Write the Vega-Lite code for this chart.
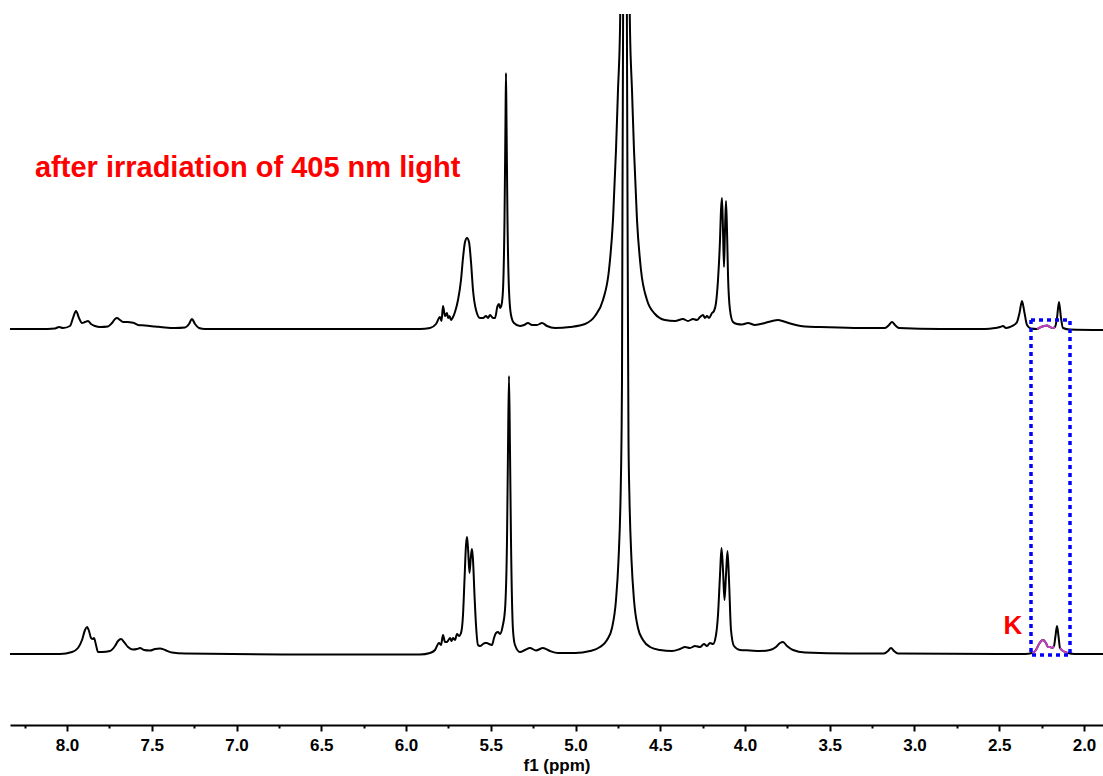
{
  "$schema": "https://vega.github.io/schema/vega-lite/v6.json",
  "width": 1093,
  "height": 711,
  "autosize": {"type": "none"},
  "padding": {"left": 10, "top": 14, "right": 0, "bottom": 51},
  "background": "white",
  "config": {"view": {"stroke": null}},
  "datasets": {
    "top": [
      {"ppm": 8.3363, "v": 396}, {"ppm": 8.1593, "v": 396}, {"ppm": 8.0708, "v": 396.5}, {"ppm": 8.0472, "v": 398},
      {"ppm": 8.0236, "v": 397}, {"ppm": 7.9823, "v": 399}, {"ppm": 7.9646, "v": 407}, {"ppm": 7.9469, "v": 414},
      {"ppm": 7.9292, "v": 407}, {"ppm": 7.9115, "v": 402}, {"ppm": 7.8938, "v": 403}, {"ppm": 7.8761, "v": 404},
      {"ppm": 7.8584, "v": 401}, {"ppm": 7.8348, "v": 399}, {"ppm": 7.8053, "v": 398}, {"ppm": 7.7581, "v": 398.5},
      {"ppm": 7.7345, "v": 402}, {"ppm": 7.7168, "v": 406}, {"ppm": 7.705, "v": 407}, {"ppm": 7.6873, "v": 405},
      {"ppm": 7.6696, "v": 403}, {"ppm": 7.646, "v": 403}, {"ppm": 7.6224, "v": 402.5}, {"ppm": 7.6047, "v": 402},
      {"ppm": 7.5811, "v": 400}, {"ppm": 7.5398, "v": 399.5}, {"ppm": 7.4808, "v": 398.5}, {"ppm": 7.4218, "v": 397.5},
      {"ppm": 7.3629, "v": 397}, {"ppm": 7.3039, "v": 397.5}, {"ppm": 7.2803, "v": 401}, {"ppm": 7.2626, "v": 406},
      {"ppm": 7.2449, "v": 401}, {"ppm": 7.2213, "v": 397}, {"ppm": 7.1859, "v": 396}, {"ppm": 6.6254, "v": 396},
      {"ppm": 6.1534, "v": 396}, {"ppm": 5.9174, "v": 396}, {"ppm": 5.8584, "v": 397}, {"ppm": 5.823, "v": 401},
      {"ppm": 5.7994, "v": 408}, {"ppm": 5.7906, "v": 404}, {"ppm": 5.7817, "v": 419}, {"ppm": 5.7699, "v": 409},
      {"ppm": 5.7581, "v": 412}, {"ppm": 5.7522, "v": 407}, {"ppm": 5.7434, "v": 409}, {"ppm": 5.7345, "v": 405},
      {"ppm": 5.7257, "v": 407}, {"ppm": 5.7109, "v": 413}, {"ppm": 5.6932, "v": 425}, {"ppm": 5.6755, "v": 445},
      {"ppm": 5.6637, "v": 467}, {"ppm": 5.6519, "v": 483}, {"ppm": 5.6401, "v": 487}, {"ppm": 5.6283, "v": 483},
      {"ppm": 5.6165, "v": 463}, {"ppm": 5.6047, "v": 435}, {"ppm": 5.587, "v": 415}, {"ppm": 5.5634, "v": 407},
      {"ppm": 5.5457, "v": 407}, {"ppm": 5.528, "v": 409}, {"ppm": 5.5162, "v": 407}, {"ppm": 5.5044, "v": 410},
      {"ppm": 5.4867, "v": 407}, {"ppm": 5.4749, "v": 407}, {"ppm": 5.4602, "v": 419}, {"ppm": 5.4513, "v": 421},
      {"ppm": 5.4454, "v": 417}, {"ppm": 5.4366, "v": 420}, {"ppm": 5.4278, "v": 435}, {"ppm": 5.4189, "v": 505},
      {"ppm": 5.413, "v": 605}, {"ppm": 5.4101, "v": 652}, {"ppm": 5.4071, "v": 605}, {"ppm": 5.4012, "v": 505},
      {"ppm": 5.3924, "v": 435}, {"ppm": 5.3806, "v": 410}, {"ppm": 5.3629, "v": 402}, {"ppm": 5.3275, "v": 399},
      {"ppm": 5.3039, "v": 400}, {"ppm": 5.2803, "v": 402}, {"ppm": 5.2567, "v": 400}, {"ppm": 5.2272, "v": 400},
      {"ppm": 5.1977, "v": 402}, {"ppm": 5.1682, "v": 399}, {"ppm": 5.121, "v": 397}, {"ppm": 5.0325, "v": 398},
      {"ppm": 4.944, "v": 401}, {"ppm": 4.885, "v": 409}, {"ppm": 4.8378, "v": 425}, {"ppm": 4.8024, "v": 455},
      {"ppm": 4.7788, "v": 505}, {"ppm": 4.7611, "v": 575}, {"ppm": 4.7493, "v": 635}, {"ppm": 4.7375, "v": 695},
      {"ppm": 4.7316, "v": 765}, {"ppm": 4.708, "v": 1025}, {"ppm": 4.6844, "v": 765}, {"ppm": 4.6785, "v": 695},
      {"ppm": 4.6667, "v": 635}, {"ppm": 4.6549, "v": 575}, {"ppm": 4.6372, "v": 505}, {"ppm": 4.6136, "v": 455},
      {"ppm": 4.5782, "v": 425}, {"ppm": 4.531, "v": 411}, {"ppm": 4.472, "v": 405}, {"ppm": 4.413, "v": 404},
      {"ppm": 4.3658, "v": 406}, {"ppm": 4.3363, "v": 404}, {"ppm": 4.3068, "v": 406}, {"ppm": 4.2832, "v": 405},
      {"ppm": 4.2655, "v": 408}, {"ppm": 4.2478, "v": 410}, {"ppm": 4.236, "v": 407}, {"ppm": 4.2242, "v": 409},
      {"ppm": 4.2124, "v": 407}, {"ppm": 4.1947, "v": 412}, {"ppm": 4.1829, "v": 414}, {"ppm": 4.1711, "v": 422},
      {"ppm": 4.1593, "v": 445}, {"ppm": 4.1475, "v": 485}, {"ppm": 4.1416, "v": 515}, {"ppm": 4.1357, "v": 527},
      {"ppm": 4.1298, "v": 495}, {"ppm": 4.1239, "v": 458}, {"ppm": 4.118, "v": 495}, {"ppm": 4.1121, "v": 524},
      {"ppm": 4.1062, "v": 495}, {"ppm": 4.1003, "v": 450}, {"ppm": 4.0885, "v": 415}, {"ppm": 4.0708, "v": 403},
      {"ppm": 4.0472, "v": 401}, {"ppm": 4.0177, "v": 400.5}, {"ppm": 3.9823, "v": 402}, {"ppm": 3.941, "v": 400},
      {"ppm": 3.882, "v": 402}, {"ppm": 3.8407, "v": 404}, {"ppm": 3.8053, "v": 405}, {"ppm": 3.7699, "v": 403.5},
      {"ppm": 3.7227, "v": 401}, {"ppm": 3.646, "v": 398.5}, {"ppm": 3.5575, "v": 398}, {"ppm": 3.3216, "v": 397},
      {"ppm": 3.1741, "v": 397}, {"ppm": 3.1505, "v": 400}, {"ppm": 3.1328, "v": 403}, {"ppm": 3.1151, "v": 400},
      {"ppm": 3.0915, "v": 397}, {"ppm": 2.8496, "v": 396}, {"ppm": 2.5841, "v": 396}, {"ppm": 2.5251, "v": 397},
      {"ppm": 2.4956, "v": 398}, {"ppm": 2.4779, "v": 399}, {"ppm": 2.4602, "v": 397}, {"ppm": 2.4366, "v": 398},
      {"ppm": 2.413, "v": 400}, {"ppm": 2.3953, "v": 403}, {"ppm": 2.3806, "v": 412}, {"ppm": 2.3658, "v": 424},
      {"ppm": 2.3509, "v": 412}, {"ppm": 2.3363, "v": 400}, {"ppm": 2.3127, "v": 396.5}, {"ppm": 2.2773, "v": 396},
      {"ppm": 2.2537, "v": 398}, {"ppm": 2.236, "v": 399}, {"ppm": 2.2183, "v": 399.5}, {"ppm": 2.2006, "v": 398},
      {"ppm": 2.1829, "v": 397}, {"ppm": 2.1711, "v": 398}, {"ppm": 2.1593, "v": 407}, {"ppm": 2.1475, "v": 423},
      {"ppm": 2.1357, "v": 407}, {"ppm": 2.1239, "v": 397}, {"ppm": 2.0826, "v": 395.5}, {"ppm": 1.8879, "v": 395}
    ],
    "bottom": [
      {"ppm": 8.3363, "v": 71}, {"ppm": 8.0413, "v": 71}, {"ppm": 7.9705, "v": 73}, {"ppm": 7.9351, "v": 77},
      {"ppm": 7.9115, "v": 85}, {"ppm": 7.8938, "v": 95}, {"ppm": 7.882, "v": 98}, {"ppm": 7.8702, "v": 94},
      {"ppm": 7.8584, "v": 87}, {"ppm": 7.8466, "v": 86}, {"ppm": 7.8407, "v": 87}, {"ppm": 7.8289, "v": 80},
      {"ppm": 7.8171, "v": 73}, {"ppm": 7.7935, "v": 73}, {"ppm": 7.7463, "v": 74}, {"ppm": 7.7168, "v": 79},
      {"ppm": 7.6991, "v": 84}, {"ppm": 7.6814, "v": 86}, {"ppm": 7.6637, "v": 83}, {"ppm": 7.6401, "v": 78},
      {"ppm": 7.6106, "v": 75.5}, {"ppm": 7.587, "v": 76}, {"ppm": 7.5693, "v": 77}, {"ppm": 7.5457, "v": 75},
      {"ppm": 7.5103, "v": 74.5}, {"ppm": 7.4808, "v": 76}, {"ppm": 7.4513, "v": 76.5}, {"ppm": 7.4218, "v": 75},
      {"ppm": 7.3806, "v": 72.5}, {"ppm": 7.3039, "v": 71.5}, {"ppm": 6.6254, "v": 70.5}, {"ppm": 5.9174, "v": 70.5},
      {"ppm": 5.8584, "v": 72}, {"ppm": 5.8289, "v": 75}, {"ppm": 5.8053, "v": 82}, {"ppm": 5.7935, "v": 80},
      {"ppm": 5.7817, "v": 90}, {"ppm": 5.7699, "v": 83}, {"ppm": 5.7581, "v": 83}, {"ppm": 5.7493, "v": 85},
      {"ppm": 5.7404, "v": 87}, {"ppm": 5.7316, "v": 84}, {"ppm": 5.7227, "v": 87}, {"ppm": 5.7109, "v": 85},
      {"ppm": 5.6991, "v": 91}, {"ppm": 5.6873, "v": 89}, {"ppm": 5.6755, "v": 92}, {"ppm": 5.6637, "v": 110},
      {"ppm": 5.6549, "v": 145}, {"ppm": 5.646, "v": 180}, {"ppm": 5.6401, "v": 188}, {"ppm": 5.6342, "v": 177},
      {"ppm": 5.6254, "v": 152}, {"ppm": 5.6165, "v": 170}, {"ppm": 5.6106, "v": 176}, {"ppm": 5.6047, "v": 165},
      {"ppm": 5.5959, "v": 130}, {"ppm": 5.587, "v": 100}, {"ppm": 5.5752, "v": 80}, {"ppm": 5.5634, "v": 79},
      {"ppm": 5.5457, "v": 81}, {"ppm": 5.534, "v": 82}, {"ppm": 5.5222, "v": 82}, {"ppm": 5.5103, "v": 81},
      {"ppm": 5.4926, "v": 80}, {"ppm": 5.4808, "v": 87}, {"ppm": 5.469, "v": 92}, {"ppm": 5.4572, "v": 93},
      {"ppm": 5.4454, "v": 91}, {"ppm": 5.4307, "v": 98}, {"ppm": 5.416, "v": 115}, {"ppm": 5.4041, "v": 185},
      {"ppm": 5.3983, "v": 275}, {"ppm": 5.3924, "v": 349}, {"ppm": 5.3865, "v": 275}, {"ppm": 5.3806, "v": 185},
      {"ppm": 5.3688, "v": 95}, {"ppm": 5.357, "v": 80}, {"ppm": 5.3275, "v": 73}, {"ppm": 5.298, "v": 75},
      {"ppm": 5.2685, "v": 77}, {"ppm": 5.2331, "v": 74.5}, {"ppm": 5.1918, "v": 77}, {"ppm": 5.1505, "v": 74},
      {"ppm": 5.1033, "v": 72}, {"ppm": 5.003, "v": 72}, {"ppm": 4.9145, "v": 74}, {"ppm": 4.8555, "v": 78},
      {"ppm": 4.8142, "v": 85}, {"ppm": 4.7847, "v": 97}, {"ppm": 4.7611, "v": 125}, {"ppm": 4.7463, "v": 165},
      {"ppm": 4.7345, "v": 225}, {"ppm": 4.7287, "v": 285}, {"ppm": 4.7257, "v": 345}, {"ppm": 4.7228, "v": 525},
      {"ppm": 4.7198, "v": 675}, {"ppm": 4.7169, "v": 825}, {"ppm": 4.708, "v": 1125}, {"ppm": 4.6991, "v": 825},
      {"ppm": 4.6962, "v": 675}, {"ppm": 4.6932, "v": 525}, {"ppm": 4.6903, "v": 395}, {"ppm": 4.6873, "v": 285},
      {"ppm": 4.6814, "v": 225}, {"ppm": 4.6696, "v": 165}, {"ppm": 4.6549, "v": 125}, {"ppm": 4.6313, "v": 97},
      {"ppm": 4.6018, "v": 85}, {"ppm": 4.5605, "v": 78}, {"ppm": 4.5015, "v": 75}, {"ppm": 4.4307, "v": 74},
      {"ppm": 4.3835, "v": 76}, {"ppm": 4.354, "v": 78}, {"ppm": 4.3245, "v": 77}, {"ppm": 4.295, "v": 79},
      {"ppm": 4.2655, "v": 78}, {"ppm": 4.2419, "v": 81}, {"ppm": 4.2242, "v": 79}, {"ppm": 4.2065, "v": 82},
      {"ppm": 4.1888, "v": 81}, {"ppm": 4.1711, "v": 90}, {"ppm": 4.1593, "v": 110}, {"ppm": 4.1475, "v": 150},
      {"ppm": 4.1386, "v": 177}, {"ppm": 4.1298, "v": 155}, {"ppm": 4.121, "v": 125}, {"ppm": 4.1121, "v": 150},
      {"ppm": 4.1033, "v": 174}, {"ppm": 4.0944, "v": 145}, {"ppm": 4.0826, "v": 95}, {"ppm": 4.0649, "v": 79},
      {"ppm": 4.0295, "v": 75}, {"ppm": 3.9705, "v": 74.5}, {"ppm": 3.9115, "v": 74}, {"ppm": 3.8525, "v": 75},
      {"ppm": 3.8171, "v": 78}, {"ppm": 3.7935, "v": 82}, {"ppm": 3.7758, "v": 83}, {"ppm": 3.7522, "v": 79},
      {"ppm": 3.7168, "v": 75}, {"ppm": 3.646, "v": 72.5}, {"ppm": 3.3806, "v": 71.5}, {"ppm": 3.18, "v": 71.5},
      {"ppm": 3.1564, "v": 74}, {"ppm": 3.1387, "v": 77}, {"ppm": 3.121, "v": 74}, {"ppm": 3.0974, "v": 71.5},
      {"ppm": 2.4956, "v": 71}, {"ppm": 2.3481, "v": 71}, {"ppm": 2.3068, "v": 72}, {"ppm": 2.2832, "v": 75},
      {"ppm": 2.2655, "v": 81}, {"ppm": 2.2419, "v": 85}, {"ppm": 2.2242, "v": 82}, {"ppm": 2.2124, "v": 78},
      {"ppm": 2.2006, "v": 78}, {"ppm": 2.1888, "v": 77}, {"ppm": 2.177, "v": 79}, {"ppm": 2.1682, "v": 89},
      {"ppm": 2.1593, "v": 99}, {"ppm": 2.1505, "v": 89}, {"ppm": 2.1417, "v": 77}, {"ppm": 2.1239, "v": 74},
      {"ppm": 2.0944, "v": 72}, {"ppm": 2.0531, "v": 71}, {"ppm": 1.8879, "v": 71}
    ],
    "kpeak": [
      {"seg": "top", "ppm": 2.2773, "v": 396}, {"seg": "top", "ppm": 2.2537, "v": 398}, {"seg": "top", "ppm": 2.236, "v": 399},
      {"seg": "top", "ppm": 2.2183, "v": 399.5}, {"seg": "top", "ppm": 2.2006, "v": 398}, {"seg": "top", "ppm": 2.1829, "v": 397},
      {"seg": "top", "ppm": 2.1711, "v": 398},
      {"seg": "b1", "ppm": 2.3068, "v": 72}, {"seg": "b1", "ppm": 2.2832, "v": 75}, {"seg": "b1", "ppm": 2.2655, "v": 81},
      {"seg": "b1", "ppm": 2.2419, "v": 85}, {"seg": "b1", "ppm": 2.2242, "v": 82}, {"seg": "b1", "ppm": 2.2124, "v": 78},
      {"seg": "b1", "ppm": 2.2006, "v": 78}, {"seg": "b1", "ppm": 2.1888, "v": 77}, {"seg": "b1", "ppm": 2.177, "v": 79},
      {"seg": "b2", "ppm": 2.1417, "v": 77}, {"seg": "b2", "ppm": 2.1239, "v": 74}, {"seg": "b2", "ppm": 2.0944, "v": 72}
    ]
  },
  "encoding": {
    "x": {
      "field": "ppm", "type": "quantitative",
      "scale": {"domain": [1.8879, 8.3363], "reverse": true, "nice": false, "zero": false},
      "axis": {
        "title": "f1 (ppm)",
        "values": [8.25, 8.0, 7.75, 7.5, 7.25, 7.0, 6.75, 6.5, 6.25, 6.0, 5.75, 5.5, 5.25, 5.0, 4.75, 4.5, 4.25, 4.0, 3.75, 3.5, 3.25, 3.0, 2.75, 2.5, 2.25, 2.0],
        "labelExpr": "abs(datum.value*2 - round(datum.value*2)) > 0.01 ? '' : format(datum.value, '.1f')",
        "tickSize": {"condition": {"test": "abs(datum.value*2 - round(datum.value*2)) > 0.01", "value": 3}, "value": 6},
        "grid": false,
        "domainColor": "#000000", "domainWidth": 2,
        "tickColor": "#000000", "tickWidth": 2,
        "labelFont": "Liberation Sans", "labelFontSize": 17, "labelFontWeight": "bold", "labelColor": "#000000",
        "labelPadding": 6, "labelFlush": false, "labelOverlap": false,
        "titleFont": "Liberation Sans", "titleFontSize": 17, "titleFontWeight": "bold", "titleColor": "#000000",
        "titlePadding": 4
      }
    },
    "y": {
      "field": "v", "type": "quantitative",
      "scale": {"domain": [0, 711], "nice": false, "zero": false},
      "axis": null
    }
  },
  "layer": [
    {
      "data": {"name": "top"},
      "mark": {"type": "line", "color": "#000000", "strokeWidth": 2, "interpolate": "monotone", "clip": true}
    },
    {
      "data": {"name": "bottom"},
      "mark": {"type": "line", "color": "#000000", "strokeWidth": 2, "interpolate": "monotone", "clip": true}
    },
    {
      "data": {"name": "kpeak"},
      "mark": {"type": "line", "color": "#c040c0", "strokeWidth": 2, "interpolate": "monotone", "clip": true},
      "encoding": {"detail": {"field": "seg", "type": "nominal"}}
    },
    {
      "data": {"values": [{"ppm": 2.3127, "ppm2": 2.0826, "v": 70, "v2": 405}]},
      "mark": {"type": "rect", "filled": false, "stroke": "#0000ff", "strokeWidth": 3.5, "strokeDash": [4, 4]},
      "encoding": {"x2": {"field": "ppm2"}, "y2": {"field": "v2"}}
    },
    {
      "data": {"values": [{"ppm": 8.189, "v": 557, "label": "after irradiation of 405 nm light"}]},
      "mark": {"type": "text", "align": "left", "baseline": "middle", "font": "Liberation Sans", "fontSize": 29, "fontWeight": "bold", "color": "#ff0000"},
      "encoding": {"text": {"field": "label"}}
    },
    {
      "data": {"values": [{"ppm": 2.419, "v": 99, "label": "K"}]},
      "mark": {"type": "text", "align": "center", "baseline": "middle", "font": "Liberation Sans", "fontSize": 26, "fontWeight": "bold", "color": "#ff0000"},
      "encoding": {"text": {"field": "label"}}
    }
  ]
}
